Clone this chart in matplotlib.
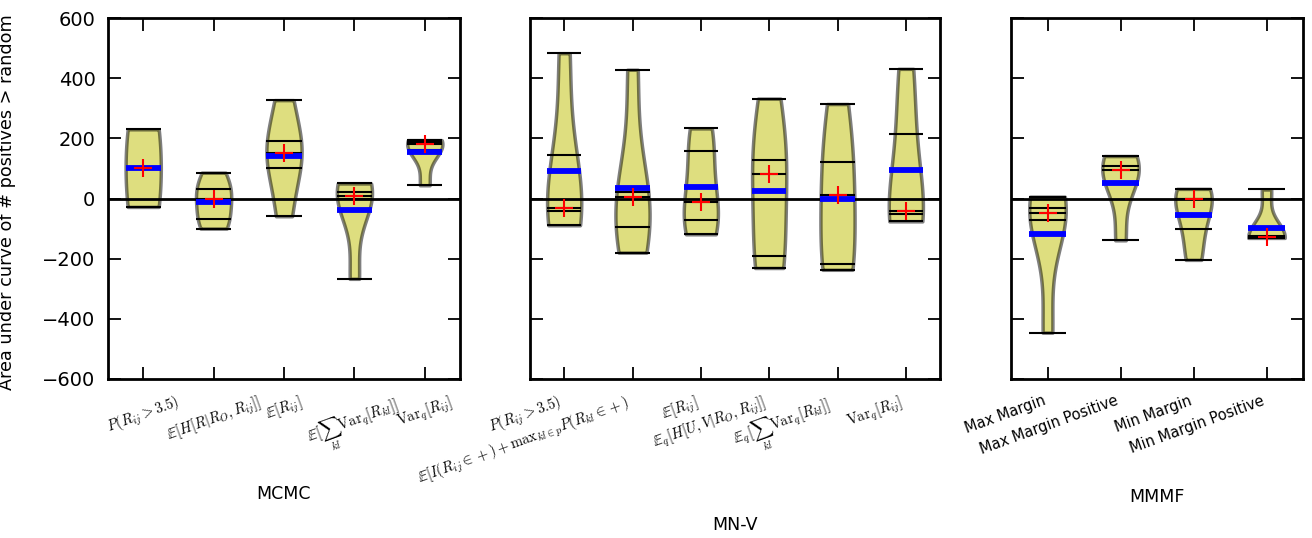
import numpy as np
import matplotlib
matplotlib.use('Agg')
import matplotlib.pyplot as plt

plt.rcParams['mathtext.fontset'] = 'cm'

# ---- data (one list of observed values per bean) ----
mcmc_labels = [r'$P(R_{ij}>3.5)$',
               r'$\mathbb{E}[H[R|R_O,R_{ij}]]$',
               r'$\mathbb{E}[R_{ij}]$',
               r'$\mathbb{E}[\sum_{kl}\mathrm{Var}_q[R_{kl}]]$',
               r'$\mathrm{Var}_q[R_{ij}]$']
mcmc_data = [
    [230, -28],
    [86, 30, 0, -67, -100],
    [327, 192, 150, 102, -59],
    [50, 21, 8, 0, -267],
    [194, 189, 180, 160, 44],
]

mnv_labels = [r'$P(R_{ij}>3.5)$',
              r'$\mathbb{E}[I(R_{ij}\in +) + \mathrm{max}_{kl\in p}P(R_{kl}\in +)$',
              r'$\mathbb{E}[R_{ij}]$',
              r'$\mathbb{E}_q[H[U,V|R_O,R_{ij}]]$',
              r'$\mathbb{E}_q[\sum_{kl}\mathrm{Var}_q[R_{kl}]]$',
              r'$\mathrm{Var}_q[R_{ij}]$']
mnv_data = [
    [483, 143, -31, -43, -89],
    [428, 22, 4, -96, -180],
    [233, 157, -12, -72, -119],
    [332, 127, 81, -192, -231],
    [314, 121, 10, -218, -237],
    [431, 213, -43, -52, -76],
]

mmmf_labels = ['Max Margin', 'Max Margin Positive', 'Min Margin', 'Min Margin Positive']
mmmf_data = [
    [6, -31, -48, -70, -446],
    [141, 108, 94, 56, -139],
    [32, 0, 0, -103, -204],
    [30, -126, -128, -129, -131],
]

group_names = ['MCMC', 'MN-V', 'MMMF']
y_ticks = [-600, -400, -200, 0, 200, 400, 600]
y_label = 'Area under curve of # positives > random'


def beanplot(ax, datasets):
    positions = np.arange(1, len(datasets) + 1)
    for pos, d in zip(positions, datasets):
        d = np.asarray(d, float)
        n = len(d)
        bw = np.std(d, ddof=1) * n ** (-0.2)
        ys = np.linspace(d.min(), d.max(), 200)
        dens = np.exp(-0.5 * ((ys[:, None] - d[None, :]) / bw) ** 2).sum(1)
        half = 0.25 * dens / dens.max()
        ax.fill_betweenx(ys, pos - half, pos + half, facecolor='y',
                         edgecolor='k', lw=2.5, alpha=0.5, zorder=1)
        ax.hlines(d, pos - 0.25, pos + 0.25, colors='k', lw=1.5, zorder=2)
    ax.axhline(0, color='k', lw=2, zorder=3)
    for pos, d in zip(positions, datasets):
        ax.hlines(np.mean(d), pos - 0.25, pos + 0.25, colors='b', lw=4.2, zorder=4)
        ax.plot(pos, np.median(d), marker='+', color='r', ms=13, mew=1.5,
                zorder=5, linestyle='none')
    return positions


fig = plt.figure(figsize=(13.12, 5.38), dpi=100)
W, H = 1312.0, 538.0
top_px, bot_px = 18, 379
panels = [(108, 460), (530, 940), (1011, 1303)]
all_data = [mcmc_data, mnv_data, mmmf_data]
all_labels = [mcmc_labels, mnv_labels, mmmf_labels]
has = ['center', 'right', 'right']
xlabel_y = [-0.294, -0.38, -0.302]

for i, ((l, r), data, labels) in enumerate(zip(panels, all_data, all_labels)):
    ax = fig.add_axes([l / W, 1 - bot_px / H, (r - l) / W, (bot_px - top_px) / H])
    pos = beanplot(ax, data)
    ax.set_xlim(0.5, len(data) + 0.5)
    ax.set_ylim(-600, 600)
    ax.set_yticks(y_ticks)
    ax.set_xticks(pos)
    ax.set_xticklabels(labels, rotation=20, ha=has[i], fontsize=10.5)
    for s in ax.spines.values():
        s.set_linewidth(2)
    ax.tick_params(direction='in', length=9, width=1.3, top=True, right=True,
                   labelsize=14, pad=9)
    ax.tick_params(axis='x', labelsize=10.5, pad=10)
    if i == 0:
        ax.set_ylabel(y_label, fontsize=12.7)
        ax.yaxis.set_label_coords(-0.262, 0.49)
    else:
        ax.tick_params(labelleft=False)
    ax.set_xlabel(group_names[i], fontsize=12.5)
    ax.xaxis.set_label_coords(0.5, xlabel_y[i])

fig.savefig('out.png', dpi=100)
